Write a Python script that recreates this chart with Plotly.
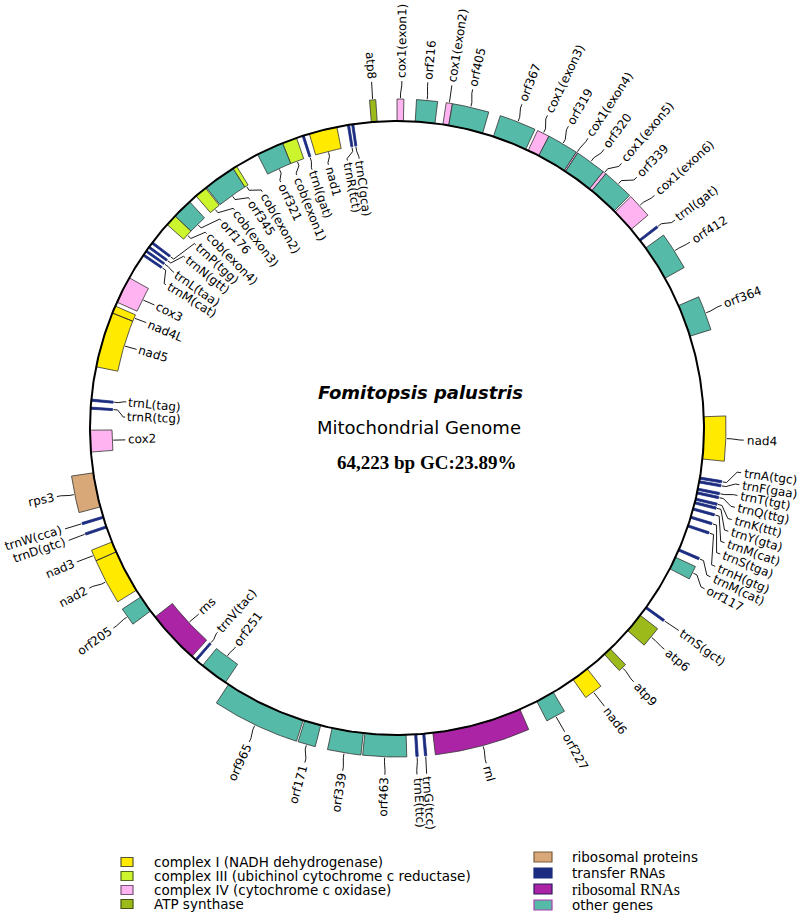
import numpy as np
import plotly.graph_objects as go

GENOME_BP = 64223

# gene table: name, start/end (bp), strand (+1 drawn outside the circle, -1 inside),
# functional group and the bp position where its label is placed
GENE_NAMES = [
    "cox1(exon1)", "orf216", "cox1(exon2)", "orf405", "orf367", "cox1(exon3)", "orf319",
    "cox1(exon4)", "orf320", "cox1(exon5)", "orf339", "cox1(exon6)", "trnI(gat)", "orf412",
    "orf364", "nad4", "trnA(tgc)", "trnF(gaa)", "trnT(tgt)", "trnQ(ttg)", "trnK(ttt)",
    "trnY(gta)", "trnM(cat)", "trnS(tga)", "trnH(gtg)", "trnM(cat)", "orf117", "trnS(gct)",
    "atp6", "atp9", "nad6", "orf227", "rnl", "trnG(tcc)", "trnE(ttc)", "orf463", "orf339",
    "orf171", "orf965", "orf251", "trnV(tac)", "rns", "orf205", "nad2", "nad3", "trnD(gtc)",
    "trnW(cca)", "rps3", "cox2", "trnR(tcg)", "trnL(tag)", "nad5", "nad4L", "cox3",
    "trnM(cat)", "trnL(taa)", "trnN(gtt)", "trnP(tgg)", "cob(exon4)", "orf176", "cob(exon3)",
    "orf345", "cob(exon2)", "orf321", "cob(exon1)", "trnI(gat)", "nad1", "trnR(tct)",
    "trnC(gca)", "atp8",
]
GENE_START = [
    1, 607, 1534, 1731, 3265, 4513, 4907, 5888, 5942, 6923, 7030, 8081, 9295, 9651,
    11863, 15681, 17697, 17822, 18072, 18197, 18411, 18535, 18750, 19035, 19338, 20194,
    20498, 22407, 22763, 24262, 25279, 26653, 27901, 31184, 31451, 31808, 33235, 34680,
    35287, 38177, 39372, 39586, 41638, 42476, 43922, 44778, 45117, 45509, 47364, 48792,
    49059, 50219, 52093, 52484, 54251, 54411, 54572, 54750, 55571, 55965, 56927, 57373,
    58462, 59406, 60317, 61012, 61262, 62563, 62707, 63367,
]
GENE_END = [
    214, 1267, 1730, 2890, 4424, 4906, 5887, 5941, 6922, 7029, 8028, 8866, 9366, 10847,
    12952, 17090, 17768, 17894, 18143, 18268, 18482, 18607, 18821, 19106, 19409, 20266,
    20926, 22478, 23424, 24530, 25868, 27277, 30916, 31255, 31523, 33182, 34288, 35233,
    38052, 39123, 39444, 41388, 42209, 43921, 44278, 44849, 45188, 46669, 48096, 48863,
    49131, 52092, 52342, 53394, 54322, 54483, 54643, 54822, 55964, 56641, 57337, 58461,
    58603, 60316, 60815, 61083, 62207, 62635, 62778, 63563,
]
GENE_STRAND = [
    1, 1, 1, 1, 1, 1, 1, 1, 1, 1, 1, 1, 1, 1, 1, 1, 1, 1, 1, 1, 1, 1, 1, 1, 1, 1, 1, 1,
    1, 1, 1, 1, 1, 1, 1, 1, 1, 1, 1, -1, -1, -1, 1, 1, 1, 1, 1, 1, -1, -1, -1, -1, -1, -1,
    -1, -1, -1, -1, -1, -1, -1, -1, -1, -1, -1, -1, -1, -1, -1, 1,
]
GENE_GROUP = [
    "IV", "other", "IV", "other", "other", "IV", "other", "IV", "other", "IV", "other", "IV",
    "tRNA", "other", "other", "I", "tRNA", "tRNA", "tRNA", "tRNA", "tRNA", "tRNA", "tRNA",
    "tRNA", "tRNA", "tRNA", "other", "tRNA", "ATP", "ATP", "I", "other", "rRNA", "tRNA",
    "tRNA", "other", "other", "other", "other", "other", "tRNA", "rRNA", "other", "I", "I",
    "tRNA", "tRNA", "RP", "IV", "tRNA", "tRNA", "I", "I", "IV", "tRNA", "tRNA", "tRNA",
    "tRNA", "III", "other", "III", "other", "III", "other", "III", "tRNA", "I", "tRNA",
    "tRNA", "ATP",
]
LABEL_POS = [
    143, 910, 1623, 2248, 3764, 4585, 5281, 5958, 6529, 7189, 7796, 8545, 9491, 10276,
    12363, 16413, 17376, 17733, 18054, 18411, 18785, 19142, 19499, 19856, 20248, 20587,
    20979, 22425, 23120, 24440, 25564, 26956, 29453, 31237, 31523, 32468, 33717, 34859,
    36608, 38605, 39479, 40461, 41888, 43261, 44118, 44796, 45152, 46133, 47721, 48577,
    49148, 51164, 52235, 52966, 53840, 54394, 55089, 55713, 56302, 57034, 57676, 58372,
    58925, 59709, 60370, 60976, 61618, 62350, 62796, 63474,
]

GROUP_KEYS = ["I", "III", "IV", "ATP", "RP", "tRNA", "rRNA", "other"]
GROUP_LABELS = [
    "complex I (NADH dehydrogenase)",
    "complex III (ubichinol cytochrome c reductase)",
    "complex IV (cytochrome c oxidase)",
    "ATP synthase",
    "ribosomal proteins",
    "transfer RNAs",
    "ribosomal RNAs",
    "other genes",
]
GROUP_COLORS = ["#ffea00", "#ccf52e", "#ffb3f0", "#9cbb1a", "#d8a878", "#1c2c80", "#ab24a6", "#55bba8"]
GROUP_EDGES = ["#555533", "#556622", "#775577", "#445511", "#7a5a3a", "#1c2c80", "#2a1a5a", "#b03cb0"]

# ---- geometry (pixel units, centre of the map at the origin) ----
W, H = 800, 916
CX, CY = 397, 428
R = 307
BOX = 22
R_LAB_OUT = 350
R_LAB_IN = 270
FONT = "DejaVu Sans"

CHAR_W = {
    " ": .318, "(": .390, ")": .390, "a": .613, "b": .635, "c": .550, "d": .635, "e": .615,
    "f": .352, "g": .635, "h": .634, "i": .278, "j": .278, "k": .579, "l": .278, "m": .974,
    "n": .634, "o": .612, "p": .635, "q": .635, "r": .411, "s": .521, "t": .392, "u": .634,
    "v": .592, "w": .818, "x": .592, "y": .592, "z": .525, "A": .684, "C": .698, "D": .770,
    "E": .632, "F": .575, "G": .775, "H": .752, "I": .295, "K": .656, "L": .557, "M": .863,
    "N": .748, "P": .603, "Q": .787, "R": .695, "S": .635, "T": .611, "V": .684, "W": .989,
    "Y": .611,
}


def text_width(s, size):
    return sum(CHAR_W.get(ch, .636 if ch.isdigit() else .6) for ch in s) * size


def deg(bp):
    return np.asarray(bp, dtype=float) / GENOME_BP * 360.0


def polar(theta_deg, r):
    t = np.radians(theta_deg)
    return r * np.sin(t), r * np.cos(t)


def px(x, y):
    # page pixel -> axis coordinates
    return x - CX, CY - y


fig = go.Figure()

# gene boxes, one trace per functional group
for key, color, edge in zip(GROUP_KEYS, GROUP_COLORS, GROUP_EDGES):
    xs, ys = [], []
    for s, e, strand, grp in zip(GENE_START, GENE_END, GENE_STRAND, GENE_GROUP):
        if grp != key:
            continue
        r0, r1 = (R, R + BOX) if strand > 0 else (R - BOX, R)
        t = np.linspace(deg(s), deg(e), max(2, int((deg(e) - deg(s)) * 3) + 2))
        ax, ay = polar(t, r0)
        bx, by = polar(t[::-1], r1)
        xs += list(ax) + list(bx) + [ax[0], None]
        ys += list(ay) + list(by) + [ay[0], None]
    fig.add_trace(go.Scatter(
        x=xs, y=ys, mode="lines", fill="toself", fillcolor=color,
        line=dict(color="#333333" if key != "tRNA" else color, width=0.8),
        hoverinfo="skip", showlegend=False,
    ))

# the genome circle
tc = np.linspace(0, 360, 721)
cxs, cys = polar(tc, R)
fig.add_trace(go.Scatter(x=cxs, y=cys, mode="lines", line=dict(color="black", width=2),
                         hoverinfo="skip", showlegend=False))

# leader lines and labels
lx, ly = [], []
annotations = []
for name, s, e, strand, lp in zip(GENE_NAMES, GENE_START, GENE_END, GENE_STRAND, LABEL_POS):
    tg = float(deg((s + e) / 2))
    tl = float(deg(lp))
    if strand > 0:
        radii = [R + BOX + 1, R + BOX + 5, R_LAB_OUT - 7, R_LAB_OUT - 3]
    else:
        radii = [R - BOX - 1, R - BOX - 5, R_LAB_IN + 4, R_LAB_IN + 2]
    for t, r in zip([tg, tg, tl, tl], radii):
        x, y = polar(t, r)
        lx.append(float(x))
        ly.append(float(y))
    lx.append(None)
    ly.append(None)

    w = text_width(name, 12)
    rc = R_LAB_OUT + w / 2 if strand > 0 else R_LAB_IN - w / 2
    x, y = polar(tl, rc)
    angle = tl - 90 if tl < 180 else tl - 270
    annotations.append(dict(
        x=float(x), y=float(y), text=name, showarrow=False, textangle=angle,
        xanchor="center", yanchor="middle", font=dict(family=FONT, size=12, color="black"),
    ))

fig.add_trace(go.Scatter(x=lx, y=ly, mode="lines", line=dict(color="black", width=0.9),
                         hoverinfo="skip", showlegend=False))

# centre titles
annotations += [
    dict(x=px(420, 392)[0], y=px(420, 392)[1], text="<b><i>Fomitopsis palustris</i></b>",
         showarrow=False, font=dict(family=FONT, size=18, color="black")),
    dict(x=px(419, 427)[0], y=px(419, 427)[1], text="Mitochondrial Genome",
         showarrow=False, font=dict(family=FONT, size=18, color="black")),
    dict(x=px(426, 462)[0], y=px(426, 462)[1], text="<b>64,223 bp GC:23.89%</b>",
         showarrow=False, font=dict(family="Liberation Serif", size=19, color="black")),
]

# legend (two columns)
shapes = []
LEG_LEFT_Y = [862, 876, 890, 904]
LEG_RIGHT_Y = [857, 873, 889, 905]
for i, (lab, color, edge) in enumerate(zip(GROUP_LABELS, GROUP_COLORS, GROUP_EDGES)):
    if i < 4:
        yy = LEG_LEFT_Y[i]
        x0, x1, tx, hh = 121, 133, 152, 4.5
    else:
        yy = LEG_RIGHT_Y[i - 4]
        x0, x1, tx, hh = 534, 552, 570, 5
    a = px(x0, yy - hh)
    b = px(x1, yy + hh)
    shapes.append(dict(type="rect", xref="x", yref="y", x0=a[0], y0=a[1], x1=b[0], y1=b[1],
                       fillcolor=color, line=dict(color=edge, width=1.2)))
    t = px(tx, yy)
    serif = lab == "ribosomal RNAs"
    annotations.append(dict(
        x=t[0], y=t[1], text=lab, showarrow=False, xanchor="left", yanchor="middle",
        font=dict(family="Liberation Serif" if serif else FONT, size=16 if serif else 13.5,
                  color="black"),
    ))

fig.update_layout(
    width=W, height=H, autosize=False,
    margin=dict(l=0, r=0, t=0, b=0),
    paper_bgcolor="white", plot_bgcolor="white",
    xaxis=dict(range=[-CX, W - CX], visible=False, fixedrange=True),
    yaxis=dict(range=[CY - H, CY], visible=False, fixedrange=True),
    annotations=annotations, shapes=shapes, showlegend=False,
)

fig.write_html("out.html", config={"displayModeBar": False},
               post_script="document.body.style.margin='0px';")
